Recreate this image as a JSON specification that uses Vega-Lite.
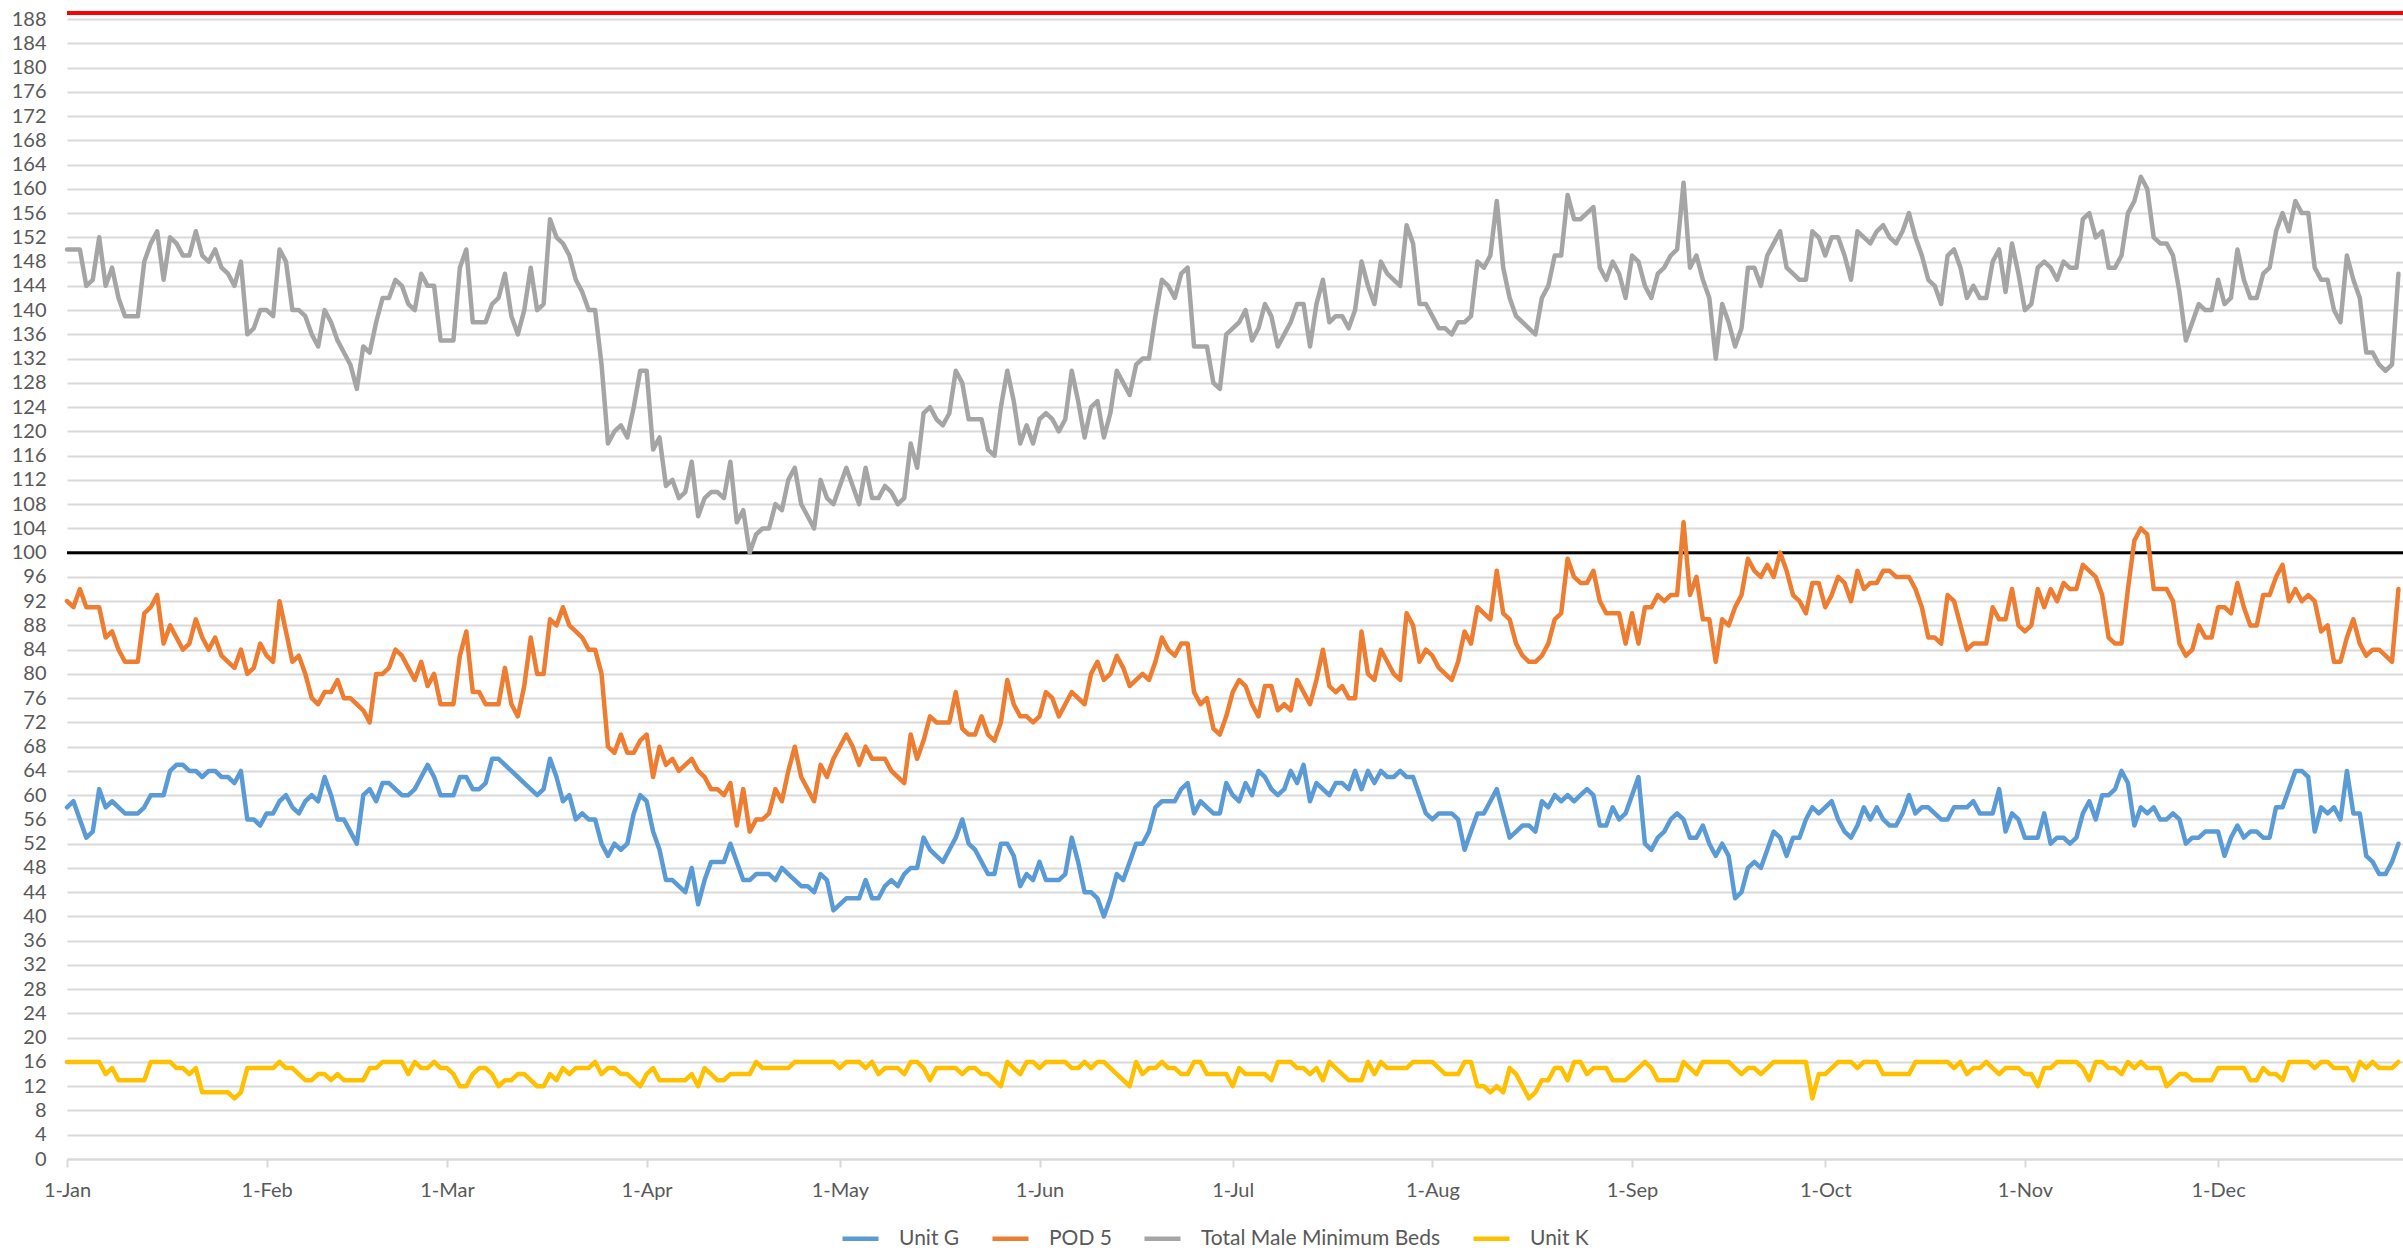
{
"$schema": "https://vega.github.io/schema/vega-lite/v6.json",
"width": 2336, "height": 1146,
"autosize": {"type": "none"},
"padding": {"left": 67, "top": 13, "right": 0, "bottom": 94},
"background": "white",
"config": {
  "view": {"stroke": null},
  "font": "Lato",
  "axis": {"labelFont": "Lato", "labelFontSize": 20, "labelColor": "#595959", "title": null},
  "axisY": {"labelOverlap": false, "labelBound": false, "labelSeparation": 0}
},
"datasets": {"beds": [
{"date":"2023-01-01","g":58,"p":92,"t":150,"k":16},
{"date":"2023-01-02","g":59,"p":91,"t":150,"k":16},
{"date":"2023-01-03","g":56,"p":94,"t":150,"k":16},
{"date":"2023-01-04","g":53,"p":91,"t":144,"k":16},
{"date":"2023-01-05","g":54,"p":91,"t":145,"k":16},
{"date":"2023-01-06","g":61,"p":91,"t":152,"k":16},
{"date":"2023-01-07","g":58,"p":86,"t":144,"k":14},
{"date":"2023-01-08","g":59,"p":87,"t":147,"k":15},
{"date":"2023-01-09","g":58,"p":84,"t":142,"k":13},
{"date":"2023-01-10","g":57,"p":82,"t":139,"k":13},
{"date":"2023-01-11","g":57,"p":82,"t":139,"k":13},
{"date":"2023-01-12","g":57,"p":82,"t":139,"k":13},
{"date":"2023-01-13","g":58,"p":90,"t":148,"k":13},
{"date":"2023-01-14","g":60,"p":91,"t":151,"k":16},
{"date":"2023-01-15","g":60,"p":93,"t":153,"k":16},
{"date":"2023-01-16","g":60,"p":85,"t":145,"k":16},
{"date":"2023-01-17","g":64,"p":88,"t":152,"k":16},
{"date":"2023-01-18","g":65,"p":86,"t":151,"k":15},
{"date":"2023-01-19","g":65,"p":84,"t":149,"k":15},
{"date":"2023-01-20","g":64,"p":85,"t":149,"k":14},
{"date":"2023-01-21","g":64,"p":89,"t":153,"k":15},
{"date":"2023-01-22","g":63,"p":86,"t":149,"k":11},
{"date":"2023-01-23","g":64,"p":84,"t":148,"k":11},
{"date":"2023-01-24","g":64,"p":86,"t":150,"k":11},
{"date":"2023-01-25","g":63,"p":83,"t":147,"k":11},
{"date":"2023-01-26","g":63,"p":82,"t":146,"k":11},
{"date":"2023-01-27","g":62,"p":81,"t":144,"k":10},
{"date":"2023-01-28","g":64,"p":84,"t":148,"k":11},
{"date":"2023-01-29","g":56,"p":80,"t":136,"k":15},
{"date":"2023-01-30","g":56,"p":81,"t":137,"k":15},
{"date":"2023-01-31","g":55,"p":85,"t":140,"k":15},
{"date":"2023-02-01","g":57,"p":83,"t":140,"k":15},
{"date":"2023-02-02","g":57,"p":82,"t":139,"k":15},
{"date":"2023-02-03","g":59,"p":92,"t":150,"k":16},
{"date":"2023-02-04","g":60,"p":87,"t":148,"k":15},
{"date":"2023-02-05","g":58,"p":82,"t":140,"k":15},
{"date":"2023-02-06","g":57,"p":83,"t":140,"k":14},
{"date":"2023-02-07","g":59,"p":80,"t":139,"k":13},
{"date":"2023-02-08","g":60,"p":76,"t":136,"k":13},
{"date":"2023-02-09","g":59,"p":75,"t":134,"k":14},
{"date":"2023-02-10","g":63,"p":77,"t":140,"k":14},
{"date":"2023-02-11","g":60,"p":77,"t":138,"k":13},
{"date":"2023-02-12","g":56,"p":79,"t":135,"k":14},
{"date":"2023-02-13","g":56,"p":76,"t":133,"k":13},
{"date":"2023-02-14","g":54,"p":76,"t":131,"k":13},
{"date":"2023-02-15","g":52,"p":75,"t":127,"k":13},
{"date":"2023-02-16","g":60,"p":74,"t":134,"k":13},
{"date":"2023-02-17","g":61,"p":72,"t":133,"k":15},
{"date":"2023-02-18","g":59,"p":80,"t":138,"k":15},
{"date":"2023-02-19","g":62,"p":80,"t":142,"k":16},
{"date":"2023-02-20","g":62,"p":81,"t":142,"k":16},
{"date":"2023-02-21","g":61,"p":84,"t":145,"k":16},
{"date":"2023-02-22","g":60,"p":83,"t":144,"k":16},
{"date":"2023-02-23","g":60,"p":81,"t":141,"k":14},
{"date":"2023-02-24","g":61,"p":79,"t":140,"k":16},
{"date":"2023-02-25","g":63,"p":82,"t":146,"k":15},
{"date":"2023-02-26","g":65,"p":78,"t":144,"k":15},
{"date":"2023-02-27","g":63,"p":80,"t":144,"k":16},
{"date":"2023-02-28","g":60,"p":75,"t":135,"k":15},
{"date":"2023-03-01","g":60,"p":75,"t":135,"k":15},
{"date":"2023-03-02","g":60,"p":75,"t":135,"k":14},
{"date":"2023-03-03","g":63,"p":83,"t":147,"k":12},
{"date":"2023-03-04","g":63,"p":87,"t":150,"k":12},
{"date":"2023-03-05","g":61,"p":77,"t":138,"k":14},
{"date":"2023-03-06","g":61,"p":77,"t":138,"k":15},
{"date":"2023-03-07","g":62,"p":75,"t":138,"k":15},
{"date":"2023-03-08","g":66,"p":75,"t":141,"k":14},
{"date":"2023-03-09","g":66,"p":75,"t":142,"k":12},
{"date":"2023-03-10","g":65,"p":81,"t":146,"k":13},
{"date":"2023-03-11","g":64,"p":75,"t":139,"k":13},
{"date":"2023-03-12","g":63,"p":73,"t":136,"k":14},
{"date":"2023-03-13","g":62,"p":78,"t":140,"k":14},
{"date":"2023-03-14","g":61,"p":86,"t":147,"k":13},
{"date":"2023-03-15","g":60,"p":80,"t":140,"k":12},
{"date":"2023-03-16","g":61,"p":80,"t":141,"k":12},
{"date":"2023-03-17","g":66,"p":89,"t":155,"k":14},
{"date":"2023-03-18","g":63,"p":88,"t":152,"k":13},
{"date":"2023-03-19","g":59,"p":91,"t":151,"k":15},
{"date":"2023-03-20","g":60,"p":88,"t":149,"k":14},
{"date":"2023-03-21","g":56,"p":87,"t":145,"k":15},
{"date":"2023-03-22","g":57,"p":86,"t":143,"k":15},
{"date":"2023-03-23","g":56,"p":84,"t":140,"k":15},
{"date":"2023-03-24","g":56,"p":84,"t":140,"k":16},
{"date":"2023-03-25","g":52,"p":80,"t":131,"k":14},
{"date":"2023-03-26","g":50,"p":68,"t":118,"k":15},
{"date":"2023-03-27","g":52,"p":67,"t":120,"k":15},
{"date":"2023-03-28","g":51,"p":70,"t":121,"k":14},
{"date":"2023-03-29","g":52,"p":67,"t":119,"k":14},
{"date":"2023-03-30","g":57,"p":67,"t":124,"k":13},
{"date":"2023-03-31","g":60,"p":69,"t":130,"k":12},
{"date":"2023-04-01","g":59,"p":70,"t":130,"k":14},
{"date":"2023-04-02","g":54,"p":63,"t":117,"k":15},
{"date":"2023-04-03","g":51,"p":68,"t":119,"k":13},
{"date":"2023-04-04","g":46,"p":65,"t":111,"k":13},
{"date":"2023-04-05","g":46,"p":66,"t":112,"k":13},
{"date":"2023-04-06","g":45,"p":64,"t":109,"k":13},
{"date":"2023-04-07","g":44,"p":65,"t":110,"k":13},
{"date":"2023-04-08","g":48,"p":66,"t":115,"k":14},
{"date":"2023-04-09","g":42,"p":64,"t":106,"k":12},
{"date":"2023-04-10","g":46,"p":63,"t":109,"k":15},
{"date":"2023-04-11","g":49,"p":61,"t":110,"k":14},
{"date":"2023-04-12","g":49,"p":61,"t":110,"k":13},
{"date":"2023-04-13","g":49,"p":60,"t":109,"k":13},
{"date":"2023-04-14","g":52,"p":62,"t":115,"k":14},
{"date":"2023-04-15","g":49,"p":55,"t":105,"k":14},
{"date":"2023-04-16","g":46,"p":61,"t":107,"k":14},
{"date":"2023-04-17","g":46,"p":54,"t":100,"k":14},
{"date":"2023-04-18","g":47,"p":56,"t":103,"k":16},
{"date":"2023-04-19","g":47,"p":56,"t":104,"k":15},
{"date":"2023-04-20","g":47,"p":57,"t":104,"k":15},
{"date":"2023-04-21","g":46,"p":61,"t":108,"k":15},
{"date":"2023-04-22","g":48,"p":59,"t":107,"k":15},
{"date":"2023-04-23","g":47,"p":64,"t":112,"k":15},
{"date":"2023-04-24","g":46,"p":68,"t":114,"k":16},
{"date":"2023-04-25","g":45,"p":63,"t":108,"k":16},
{"date":"2023-04-26","g":45,"p":61,"t":106,"k":16},
{"date":"2023-04-27","g":44,"p":59,"t":104,"k":16},
{"date":"2023-04-28","g":47,"p":65,"t":112,"k":16},
{"date":"2023-04-29","g":46,"p":63,"t":109,"k":16},
{"date":"2023-04-30","g":41,"p":66,"t":108,"k":16},
{"date":"2023-05-01","g":42,"p":68,"t":111,"k":15},
{"date":"2023-05-02","g":43,"p":70,"t":114,"k":16},
{"date":"2023-05-03","g":43,"p":68,"t":111,"k":16},
{"date":"2023-05-04","g":43,"p":65,"t":108,"k":16},
{"date":"2023-05-05","g":46,"p":68,"t":114,"k":15},
{"date":"2023-05-06","g":43,"p":66,"t":109,"k":16},
{"date":"2023-05-07","g":43,"p":66,"t":109,"k":14},
{"date":"2023-05-08","g":45,"p":66,"t":111,"k":15},
{"date":"2023-05-09","g":46,"p":64,"t":110,"k":15},
{"date":"2023-05-10","g":45,"p":63,"t":108,"k":15},
{"date":"2023-05-11","g":47,"p":62,"t":109,"k":14},
{"date":"2023-05-12","g":48,"p":70,"t":118,"k":16},
{"date":"2023-05-13","g":48,"p":66,"t":114,"k":16},
{"date":"2023-05-14","g":53,"p":69,"t":123,"k":15},
{"date":"2023-05-15","g":51,"p":73,"t":124,"k":13},
{"date":"2023-05-16","g":50,"p":72,"t":122,"k":15},
{"date":"2023-05-17","g":49,"p":72,"t":121,"k":15},
{"date":"2023-05-18","g":51,"p":72,"t":123,"k":15},
{"date":"2023-05-19","g":53,"p":77,"t":130,"k":15},
{"date":"2023-05-20","g":56,"p":71,"t":128,"k":14},
{"date":"2023-05-21","g":52,"p":70,"t":122,"k":15},
{"date":"2023-05-22","g":51,"p":70,"t":122,"k":15},
{"date":"2023-05-23","g":49,"p":73,"t":122,"k":14},
{"date":"2023-05-24","g":47,"p":70,"t":117,"k":14},
{"date":"2023-05-25","g":47,"p":69,"t":116,"k":13},
{"date":"2023-05-26","g":52,"p":72,"t":124,"k":12},
{"date":"2023-05-27","g":52,"p":79,"t":130,"k":16},
{"date":"2023-05-28","g":50,"p":75,"t":125,"k":15},
{"date":"2023-05-29","g":45,"p":73,"t":118,"k":14},
{"date":"2023-05-30","g":47,"p":73,"t":121,"k":16},
{"date":"2023-05-31","g":46,"p":72,"t":118,"k":16},
{"date":"2023-06-01","g":49,"p":73,"t":122,"k":15},
{"date":"2023-06-02","g":46,"p":77,"t":123,"k":16},
{"date":"2023-06-03","g":46,"p":76,"t":122,"k":16},
{"date":"2023-06-04","g":46,"p":73,"t":120,"k":16},
{"date":"2023-06-05","g":47,"p":75,"t":122,"k":16},
{"date":"2023-06-06","g":53,"p":77,"t":130,"k":15},
{"date":"2023-06-07","g":49,"p":76,"t":125,"k":15},
{"date":"2023-06-08","g":44,"p":75,"t":119,"k":16},
{"date":"2023-06-09","g":44,"p":80,"t":124,"k":15},
{"date":"2023-06-10","g":43,"p":82,"t":125,"k":16},
{"date":"2023-06-11","g":40,"p":79,"t":119,"k":16},
{"date":"2023-06-12","g":43,"p":80,"t":123,"k":15},
{"date":"2023-06-13","g":47,"p":83,"t":130,"k":14},
{"date":"2023-06-14","g":46,"p":81,"t":128,"k":13},
{"date":"2023-06-15","g":49,"p":78,"t":126,"k":12},
{"date":"2023-06-16","g":52,"p":79,"t":131,"k":16},
{"date":"2023-06-17","g":52,"p":80,"t":132,"k":14},
{"date":"2023-06-18","g":54,"p":79,"t":132,"k":15},
{"date":"2023-06-19","g":58,"p":82,"t":139,"k":15},
{"date":"2023-06-20","g":59,"p":86,"t":145,"k":16},
{"date":"2023-06-21","g":59,"p":84,"t":144,"k":15},
{"date":"2023-06-22","g":59,"p":83,"t":142,"k":15},
{"date":"2023-06-23","g":61,"p":85,"t":146,"k":14},
{"date":"2023-06-24","g":62,"p":85,"t":147,"k":14},
{"date":"2023-06-25","g":57,"p":77,"t":134,"k":16},
{"date":"2023-06-26","g":59,"p":75,"t":134,"k":16},
{"date":"2023-06-27","g":58,"p":76,"t":134,"k":14},
{"date":"2023-06-28","g":57,"p":71,"t":128,"k":14},
{"date":"2023-06-29","g":57,"p":70,"t":127,"k":14},
{"date":"2023-06-30","g":62,"p":73,"t":136,"k":14},
{"date":"2023-07-01","g":60,"p":77,"t":137,"k":12},
{"date":"2023-07-02","g":59,"p":79,"t":138,"k":15},
{"date":"2023-07-03","g":62,"p":78,"t":140,"k":14},
{"date":"2023-07-04","g":60,"p":75,"t":135,"k":14},
{"date":"2023-07-05","g":64,"p":73,"t":137,"k":14},
{"date":"2023-07-06","g":63,"p":78,"t":141,"k":14},
{"date":"2023-07-07","g":61,"p":78,"t":139,"k":13},
{"date":"2023-07-08","g":60,"p":74,"t":134,"k":16},
{"date":"2023-07-09","g":61,"p":75,"t":136,"k":16},
{"date":"2023-07-10","g":64,"p":74,"t":138,"k":16},
{"date":"2023-07-11","g":62,"p":79,"t":141,"k":15},
{"date":"2023-07-12","g":65,"p":77,"t":141,"k":15},
{"date":"2023-07-13","g":59,"p":75,"t":134,"k":14},
{"date":"2023-07-14","g":62,"p":79,"t":141,"k":15},
{"date":"2023-07-15","g":61,"p":84,"t":145,"k":13},
{"date":"2023-07-16","g":60,"p":78,"t":138,"k":16},
{"date":"2023-07-17","g":62,"p":77,"t":139,"k":15},
{"date":"2023-07-18","g":62,"p":78,"t":139,"k":14},
{"date":"2023-07-19","g":61,"p":76,"t":137,"k":13},
{"date":"2023-07-20","g":64,"p":76,"t":140,"k":13},
{"date":"2023-07-21","g":61,"p":87,"t":148,"k":13},
{"date":"2023-07-22","g":64,"p":80,"t":144,"k":16},
{"date":"2023-07-23","g":62,"p":79,"t":141,"k":14},
{"date":"2023-07-24","g":64,"p":84,"t":148,"k":16},
{"date":"2023-07-25","g":63,"p":82,"t":146,"k":15},
{"date":"2023-07-26","g":63,"p":80,"t":145,"k":15},
{"date":"2023-07-27","g":64,"p":79,"t":144,"k":15},
{"date":"2023-07-28","g":63,"p":90,"t":154,"k":15},
{"date":"2023-07-29","g":63,"p":88,"t":151,"k":16},
{"date":"2023-07-30","g":60,"p":82,"t":141,"k":16},
{"date":"2023-07-31","g":57,"p":84,"t":141,"k":16},
{"date":"2023-08-01","g":56,"p":83,"t":139,"k":16},
{"date":"2023-08-02","g":57,"p":81,"t":137,"k":15},
{"date":"2023-08-03","g":57,"p":80,"t":137,"k":14},
{"date":"2023-08-04","g":57,"p":79,"t":136,"k":14},
{"date":"2023-08-05","g":56,"p":82,"t":138,"k":14},
{"date":"2023-08-06","g":51,"p":87,"t":138,"k":16},
{"date":"2023-08-07","g":54,"p":85,"t":139,"k":16},
{"date":"2023-08-08","g":57,"p":91,"t":148,"k":12},
{"date":"2023-08-09","g":57,"p":90,"t":147,"k":12},
{"date":"2023-08-10","g":59,"p":89,"t":149,"k":11},
{"date":"2023-08-11","g":61,"p":97,"t":158,"k":12},
{"date":"2023-08-12","g":57,"p":90,"t":147,"k":11},
{"date":"2023-08-13","g":53,"p":89,"t":142,"k":15},
{"date":"2023-08-14","g":54,"p":85,"t":139,"k":14},
{"date":"2023-08-15","g":55,"p":83,"t":138,"k":12},
{"date":"2023-08-16","g":55,"p":82,"t":137,"k":10},
{"date":"2023-08-17","g":54,"p":82,"t":136,"k":11},
{"date":"2023-08-18","g":59,"p":83,"t":142,"k":13},
{"date":"2023-08-19","g":58,"p":85,"t":144,"k":13},
{"date":"2023-08-20","g":60,"p":89,"t":149,"k":15},
{"date":"2023-08-21","g":59,"p":90,"t":149,"k":15},
{"date":"2023-08-22","g":60,"p":99,"t":159,"k":13},
{"date":"2023-08-23","g":59,"p":96,"t":155,"k":16},
{"date":"2023-08-24","g":60,"p":95,"t":155,"k":16},
{"date":"2023-08-25","g":61,"p":95,"t":156,"k":14},
{"date":"2023-08-26","g":60,"p":97,"t":157,"k":15},
{"date":"2023-08-27","g":55,"p":92,"t":147,"k":15},
{"date":"2023-08-28","g":55,"p":90,"t":145,"k":15},
{"date":"2023-08-29","g":58,"p":90,"t":148,"k":13},
{"date":"2023-08-30","g":56,"p":90,"t":146,"k":13},
{"date":"2023-08-31","g":57,"p":85,"t":142,"k":13},
{"date":"2023-09-01","g":60,"p":90,"t":149,"k":14},
{"date":"2023-09-02","g":63,"p":85,"t":148,"k":15},
{"date":"2023-09-03","g":52,"p":91,"t":144,"k":16},
{"date":"2023-09-04","g":51,"p":91,"t":142,"k":15},
{"date":"2023-09-05","g":53,"p":93,"t":146,"k":13},
{"date":"2023-09-06","g":54,"p":92,"t":147,"k":13},
{"date":"2023-09-07","g":56,"p":93,"t":149,"k":13},
{"date":"2023-09-08","g":57,"p":93,"t":150,"k":13},
{"date":"2023-09-09","g":56,"p":105,"t":161,"k":16},
{"date":"2023-09-10","g":53,"p":93,"t":147,"k":15},
{"date":"2023-09-11","g":53,"p":96,"t":149,"k":14},
{"date":"2023-09-12","g":55,"p":89,"t":145,"k":16},
{"date":"2023-09-13","g":52,"p":89,"t":142,"k":16},
{"date":"2023-09-14","g":50,"p":82,"t":132,"k":16},
{"date":"2023-09-15","g":52,"p":89,"t":141,"k":16},
{"date":"2023-09-16","g":50,"p":88,"t":138,"k":16},
{"date":"2023-09-17","g":43,"p":91,"t":134,"k":15},
{"date":"2023-09-18","g":44,"p":93,"t":137,"k":14},
{"date":"2023-09-19","g":48,"p":99,"t":147,"k":15},
{"date":"2023-09-20","g":49,"p":97,"t":147,"k":15},
{"date":"2023-09-21","g":48,"p":96,"t":144,"k":14},
{"date":"2023-09-22","g":51,"p":98,"t":149,"k":15},
{"date":"2023-09-23","g":54,"p":96,"t":151,"k":16},
{"date":"2023-09-24","g":53,"p":100,"t":153,"k":16},
{"date":"2023-09-25","g":50,"p":97,"t":147,"k":16},
{"date":"2023-09-26","g":53,"p":93,"t":146,"k":16},
{"date":"2023-09-27","g":53,"p":92,"t":145,"k":16},
{"date":"2023-09-28","g":56,"p":90,"t":145,"k":16},
{"date":"2023-09-29","g":58,"p":95,"t":153,"k":10},
{"date":"2023-09-30","g":57,"p":95,"t":152,"k":14},
{"date":"2023-10-01","g":58,"p":91,"t":149,"k":14},
{"date":"2023-10-02","g":59,"p":93,"t":152,"k":15},
{"date":"2023-10-03","g":56,"p":96,"t":152,"k":16},
{"date":"2023-10-04","g":54,"p":95,"t":149,"k":16},
{"date":"2023-10-05","g":53,"p":92,"t":145,"k":16},
{"date":"2023-10-06","g":55,"p":97,"t":153,"k":15},
{"date":"2023-10-07","g":58,"p":94,"t":152,"k":16},
{"date":"2023-10-08","g":56,"p":95,"t":151,"k":16},
{"date":"2023-10-09","g":58,"p":95,"t":153,"k":16},
{"date":"2023-10-10","g":56,"p":97,"t":154,"k":14},
{"date":"2023-10-11","g":55,"p":97,"t":152,"k":14},
{"date":"2023-10-12","g":55,"p":96,"t":151,"k":14},
{"date":"2023-10-13","g":57,"p":96,"t":153,"k":14},
{"date":"2023-10-14","g":60,"p":96,"t":156,"k":14},
{"date":"2023-10-15","g":57,"p":94,"t":152,"k":16},
{"date":"2023-10-16","g":58,"p":91,"t":149,"k":16},
{"date":"2023-10-17","g":58,"p":86,"t":145,"k":16},
{"date":"2023-10-18","g":57,"p":86,"t":144,"k":16},
{"date":"2023-10-19","g":56,"p":85,"t":141,"k":16},
{"date":"2023-10-20","g":56,"p":93,"t":149,"k":16},
{"date":"2023-10-21","g":58,"p":92,"t":150,"k":15},
{"date":"2023-10-22","g":58,"p":88,"t":147,"k":16},
{"date":"2023-10-23","g":58,"p":84,"t":142,"k":14},
{"date":"2023-10-24","g":59,"p":85,"t":144,"k":15},
{"date":"2023-10-25","g":57,"p":85,"t":142,"k":15},
{"date":"2023-10-26","g":57,"p":85,"t":142,"k":16},
{"date":"2023-10-27","g":57,"p":91,"t":148,"k":15},
{"date":"2023-10-28","g":61,"p":89,"t":150,"k":14},
{"date":"2023-10-29","g":54,"p":89,"t":143,"k":15},
{"date":"2023-10-30","g":57,"p":94,"t":151,"k":15},
{"date":"2023-10-31","g":56,"p":88,"t":146,"k":15},
{"date":"2023-11-01","g":53,"p":87,"t":140,"k":14},
{"date":"2023-11-02","g":53,"p":88,"t":141,"k":14},
{"date":"2023-11-03","g":53,"p":94,"t":147,"k":12},
{"date":"2023-11-04","g":57,"p":91,"t":148,"k":15},
{"date":"2023-11-05","g":52,"p":94,"t":147,"k":15},
{"date":"2023-11-06","g":53,"p":92,"t":145,"k":16},
{"date":"2023-11-07","g":53,"p":95,"t":148,"k":16},
{"date":"2023-11-08","g":52,"p":94,"t":147,"k":16},
{"date":"2023-11-09","g":53,"p":94,"t":147,"k":16},
{"date":"2023-11-10","g":57,"p":98,"t":155,"k":15},
{"date":"2023-11-11","g":59,"p":97,"t":156,"k":13},
{"date":"2023-11-12","g":56,"p":96,"t":152,"k":16},
{"date":"2023-11-13","g":60,"p":93,"t":153,"k":16},
{"date":"2023-11-14","g":60,"p":86,"t":147,"k":15},
{"date":"2023-11-15","g":61,"p":85,"t":147,"k":15},
{"date":"2023-11-16","g":64,"p":85,"t":149,"k":14},
{"date":"2023-11-17","g":62,"p":94,"t":156,"k":16},
{"date":"2023-11-18","g":55,"p":102,"t":158,"k":15},
{"date":"2023-11-19","g":58,"p":104,"t":162,"k":16},
{"date":"2023-11-20","g":57,"p":103,"t":160,"k":15},
{"date":"2023-11-21","g":58,"p":94,"t":152,"k":15},
{"date":"2023-11-22","g":56,"p":94,"t":151,"k":15},
{"date":"2023-11-23","g":56,"p":94,"t":151,"k":12},
{"date":"2023-11-24","g":57,"p":92,"t":149,"k":13},
{"date":"2023-11-25","g":56,"p":85,"t":143,"k":14},
{"date":"2023-11-26","g":52,"p":83,"t":135,"k":14},
{"date":"2023-11-27","g":53,"p":84,"t":138,"k":13},
{"date":"2023-11-28","g":53,"p":88,"t":141,"k":13},
{"date":"2023-11-29","g":54,"p":86,"t":140,"k":13},
{"date":"2023-11-30","g":54,"p":86,"t":140,"k":13},
{"date":"2023-12-01","g":54,"p":91,"t":145,"k":15},
{"date":"2023-12-02","g":50,"p":91,"t":141,"k":15},
{"date":"2023-12-03","g":53,"p":90,"t":142,"k":15},
{"date":"2023-12-04","g":55,"p":95,"t":150,"k":15},
{"date":"2023-12-05","g":53,"p":91,"t":145,"k":15},
{"date":"2023-12-06","g":54,"p":88,"t":142,"k":13},
{"date":"2023-12-07","g":54,"p":88,"t":142,"k":13},
{"date":"2023-12-08","g":53,"p":93,"t":146,"k":15},
{"date":"2023-12-09","g":53,"p":93,"t":147,"k":14},
{"date":"2023-12-10","g":58,"p":96,"t":153,"k":14},
{"date":"2023-12-11","g":58,"p":98,"t":156,"k":13},
{"date":"2023-12-12","g":61,"p":92,"t":153,"k":16},
{"date":"2023-12-13","g":64,"p":94,"t":158,"k":16},
{"date":"2023-12-14","g":64,"p":92,"t":156,"k":16},
{"date":"2023-12-15","g":63,"p":93,"t":156,"k":16},
{"date":"2023-12-16","g":54,"p":92,"t":147,"k":15},
{"date":"2023-12-17","g":58,"p":87,"t":145,"k":16},
{"date":"2023-12-18","g":57,"p":88,"t":145,"k":16},
{"date":"2023-12-19","g":58,"p":82,"t":140,"k":15},
{"date":"2023-12-20","g":56,"p":82,"t":138,"k":15},
{"date":"2023-12-21","g":64,"p":86,"t":149,"k":15},
{"date":"2023-12-22","g":57,"p":89,"t":145,"k":13},
{"date":"2023-12-23","g":57,"p":85,"t":142,"k":16},
{"date":"2023-12-24","g":50,"p":83,"t":133,"k":15},
{"date":"2023-12-25","g":49,"p":84,"t":133,"k":16},
{"date":"2023-12-26","g":47,"p":84,"t":131,"k":15},
{"date":"2023-12-27","g":47,"p":83,"t":130,"k":15},
{"date":"2023-12-28","g":49,"p":82,"t":131,"k":15},
{"date":"2023-12-29","g":52,"p":94,"t":146,"k":16}
]},
"layer": [
  {
    "data": {"values": [{"beds": 100}]},
    "mark": {"type": "rule", "color": "#000000", "strokeWidth": 3},
    "encoding": {
      "y": {"field": "beds", "type": "quantitative", "title": null,
            "scale": {"domain": [0, 189], "nice": false, "zero": true},
            "axis": {
              "values": [0,4,8,12,16,20,24,28,32,36,40,44,48,52,56,60,64,68,72,76,80,84,88,92,96,100,104,108,112,116,120,124,128,132,136,140,144,148,152,156,160,164,168,172,176,180,184,188],
              "grid": true, "gridColor": "#D9D9D9", "gridWidth": 2, "domain": false, "ticks": false,
              "labelPadding": 21, "labelOverlap": false, "labelBound": false, "title": null
            }}
    }
  },
  {
    "data": {"values": [{"beds": 189}]},
    "mark": {"type": "rule", "color": "#FF0000", "strokeWidth": 4},
    "encoding": {
      "y": {"field": "beds", "type": "quantitative", "title": null,
            "scale": {"domain": [0, 189], "nice": false, "zero": true},
            "axis": {
              "values": [0,4,8,12,16,20,24,28,32,36,40,44,48,52,56,60,64,68,72,76,80,84,88,92,96,100,104,108,112,116,120,124,128,132,136,140,144,148,152,156,160,164,168,172,176,180,184,188],
              "grid": true, "gridColor": "#D9D9D9", "gridWidth": 2, "domain": false, "ticks": false,
              "labelPadding": 21, "labelOverlap": false, "labelBound": false, "title": null
            }}
    }
  },
  {
    "data": {"name": "beds"},
    "transform": [{"fold": ["g", "p", "t", "k"], "as": ["series", "beds"]}],
    "mark": {"type": "line", "strokeWidth": 4.5, "strokeJoin": "round", "strokeCap": "round"},
    "encoding": {
      "x": {"field": "date", "type": "temporal", "title": null,
            "scale": {"type": "utc", "domain": [{"year": 2023, "month": 1, "date": 1, "utc": true}, {"year": 2023, "month": 12, "date": 29, "hours": 17, "utc": true}]},
            "axis": {
              "values": [
                {"year": 2023, "month": 1, "date": 1, "utc": true},
                {"year": 2023, "month": 2, "date": 1, "utc": true},
                {"year": 2023, "month": 3, "date": 1, "utc": true},
                {"year": 2023, "month": 4, "date": 1, "utc": true},
                {"year": 2023, "month": 5, "date": 1, "utc": true},
                {"year": 2023, "month": 6, "date": 1, "utc": true},
                {"year": 2023, "month": 7, "date": 1, "utc": true},
                {"year": 2023, "month": 8, "date": 1, "utc": true},
                {"year": 2023, "month": 9, "date": 1, "utc": true},
                {"year": 2023, "month": 10, "date": 1, "utc": true},
                {"year": 2023, "month": 11, "date": 1, "utc": true},
                {"year": 2023, "month": 12, "date": 1, "utc": true}
              ],
              "format": "%-d-%b", "grid": false, "domain": true, "domainColor": "#D9D9D9", "domainWidth": 2,
              "ticks": true, "tickColor": "#D9D9D9", "tickWidth": 2, "tickSize": 8,
              "labelPadding": 13, "labelFlush": false, "labelOverlap": false, "labelBound": false, "title": null
            }},
      "y": {"field": "beds", "type": "quantitative", "title": null,
            "scale": {"domain": [0, 189], "nice": false, "zero": true},
            "axis": {
              "values": [0,4,8,12,16,20,24,28,32,36,40,44,48,52,56,60,64,68,72,76,80,84,88,92,96,100,104,108,112,116,120,124,128,132,136,140,144,148,152,156,160,164,168,172,176,180,184,188],
              "grid": true, "gridColor": "#D9D9D9", "gridWidth": 2, "domain": false, "ticks": false,
              "labelPadding": 21, "labelOverlap": false, "labelBound": false, "title": null
            }},
      "color": {"field": "series", "type": "nominal",
            "scale": {"domain": ["g", "p", "t", "k"], "range": ["#5B9BD5", "#ED7D31", "#A5A5A5", "#FFC000"]},
            "legend": {
              "orient": "none", "legendX": 773, "legendY": 1205, "direction": "horizontal", "title": null,
              "symbolType": "stroke", "symbolStrokeWidth": 4.5, "symbolSize": 1300,
              "labelFontSize": 21, "labelColor": "#595959", "labelFont": "Lato", "labelLimit": 500,
              "columnPadding": 23, "labelOffset": 18,
              "labelExpr": "datum.label == 'g' ? 'Unit G' : datum.label == 'p' ? 'POD 5' : datum.label == 't' ? 'Total Male Minimum Beds' : 'Unit K'"
            }}
    }
  }
]
}
